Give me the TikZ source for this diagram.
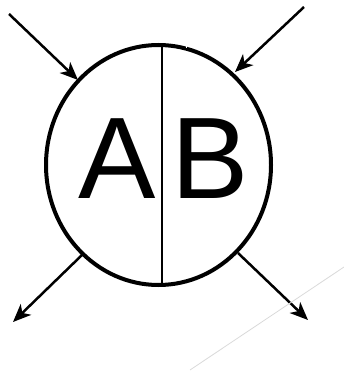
\documentclass[tikz,border=0pt]{standalone}
\usepackage{fontspec}
\setmainfont{Liberation Sans}
\usetikzlibrary{arrows.meta}
\usetikzlibrary{shapes.geometric,positioning}

\begin{document}
\begin{tikzpicture}[
  x=1pt, y=-1pt,
  ring/.style={
    ellipse, draw, line width=4pt, inner sep=0pt,
    minimum width=225pt, minimum height=240pt},
  letter/.style={
    inner sep=0pt, font=\fontsize{116}{116}\selectfont},
  arr/.style={-{Stealth[length=18pt, width=15pt, inset=5pt]}, line width=2.5pt},
]
  \useasboundingbox (0,0) rectangle (344,374);

  % ── Ring and divider ────────────────────────────────────────────────────
  \node[ring] (ring) at (158.5,165) {};
  \draw[line width=2.2pt] (162,45) -- (162,285);
  \draw[white, line width=1.5pt] (186.5,42) -- (186.5,48);

  % ── Letters ──────────────────────────────────────────────────────────────
  \node[letter] (A) at (117.5,158.5) {A};
  \node[letter] (B) at (210.5,158.5) {B};

  % ── Arrow ends ───────────────────────────────────────────────────────────
  \coordinate (inNW)  at (9,14);
  \coordinate (tipNW) at (78,80);
  \coordinate (inNE)  at (304,7);
  \coordinate (tipNE) at (235,72);
  \coordinate (outSW) at (82,255);
  \coordinate (tipSW) at (13,322);
  \coordinate (outSE) at (238,253);
  \coordinate (tipSE) at (308,320);

  \draw[arr] (inNW)  -- (tipNW);
  \draw[arr] (inNE)  -- (tipNE);
  \draw[arr] (outSW) -- (tipSW);
  \draw[arr] (outSE) -- (tipSE);

  % faint guide line, lower right
  \coordinate (g1) at (190,370);
  \coordinate (g2) at (344,267);
  \draw[black!15, line width=0.8pt] (g1) -- (g2);

\end{tikzpicture}
\end{document}
